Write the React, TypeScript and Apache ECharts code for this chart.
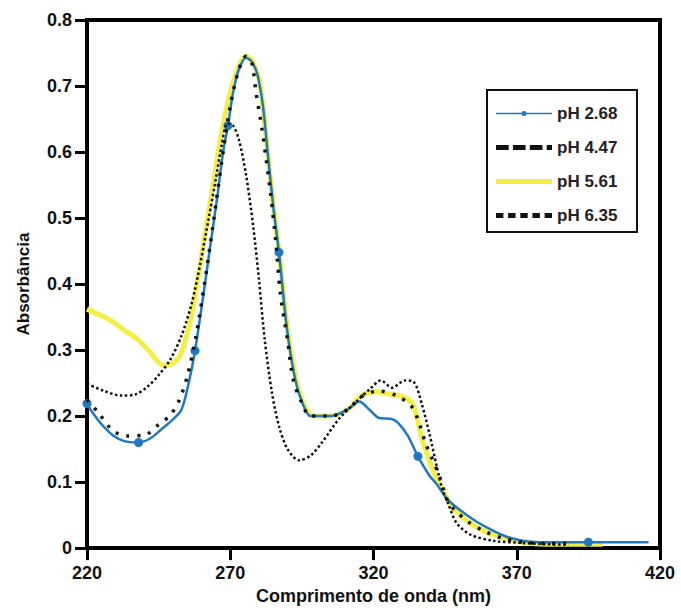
import React, { useEffect, useRef } from "react";
import * as echarts from "echarts";

const xTicks = [220, 270, 320, 370, 420];
const yTicks = [0, 0.1, 0.2, 0.3, 0.4, 0.5, 0.6, 0.7, 0.8];
const seriesNames = ["pH 2.68", "pH 4.47", "pH 5.61", "pH 6.35"];

const pH268: [number, number][] = [
  [220, 0.219], [222, 0.205], [225, 0.188], [229, 0.171], [233, 0.162], [238, 0.16],
  [242, 0.166], [246, 0.18], [250, 0.195], [253, 0.21], [255.5, 0.25], [257.7, 0.299],
  [260.5, 0.38], [263, 0.457], [265.5, 0.533], [267.5, 0.6], [269.2, 0.64], [271, 0.69],
  [273, 0.725], [275.5, 0.743], [277.5, 0.737], [279.5, 0.717], [281.5, 0.667], [283.2, 0.593],
  [285, 0.518], [287, 0.448], [289.8, 0.332], [292.6, 0.257], [295, 0.222], [298, 0.2],
  [305, 0.2], [311, 0.21], [315, 0.222], [318.5, 0.21], [322, 0.197], [326, 0.196],
  [328.5, 0.19], [332, 0.17], [335.5, 0.139], [339.5, 0.11], [342, 0.097], [346, 0.073],
  [351, 0.055], [356, 0.04], [361, 0.028], [366, 0.018], [371, 0.012], [378, 0.009],
  [385, 0.009], [395, 0.009], [405, 0.009], [416, 0.009],
];
const pH268Markers = [220, 238, 257.7, 269.2, 287, 335.5, 395];

const pH447: [number, number][] = [
  [220, 0.225], [224, 0.205], [229, 0.178], [234, 0.17], [240, 0.171], [245, 0.187],
  [249, 0.201], [252, 0.222], [255, 0.26], [258, 0.32], [261, 0.4], [264, 0.49],
  [267, 0.585], [270, 0.67], [273, 0.725], [275.5, 0.745], [277.5, 0.735], [279, 0.69],
  [281, 0.637], [282.5, 0.59], [284, 0.54], [286, 0.46], [287.5, 0.385], [290, 0.315],
  [292, 0.255], [295, 0.22], [298, 0.2], [305, 0.2], [311, 0.21], [316, 0.23],
  [322, 0.238], [328, 0.231], [333.4, 0.214], [336.2, 0.186], [338, 0.161], [340.4, 0.136],
  [343, 0.109], [346, 0.07], [348.5, 0.057], [353, 0.04], [359, 0.025], [365, 0.015],
  [372, 0.009], [380, 0.007], [390, 0.007],
];

const pH561: [number, number][] = [
  [220, 0.362], [225, 0.352], [229, 0.343], [233, 0.33], [237.5, 0.317], [242, 0.297],
  [246.5, 0.277], [249, 0.278], [252.5, 0.292], [256, 0.343], [258.5, 0.403], [261, 0.47],
  [264, 0.55], [267, 0.63], [270, 0.69], [273, 0.73], [275.5, 0.745], [278, 0.735],
  [280.5, 0.7], [283, 0.6], [285, 0.52], [287, 0.45], [290, 0.33], [293, 0.255],
  [296, 0.215], [299, 0.2], [305, 0.2], [311, 0.21], [316, 0.232], [321, 0.237],
  [326, 0.233], [331, 0.228], [334, 0.215], [337, 0.165], [341, 0.115], [344, 0.088],
  [348, 0.06], [353, 0.04], [359, 0.025], [366, 0.015], [373, 0.008], [380, 0.006],
  [390, 0.006], [400, 0.006],
];

const pH635: [number, number][] = [
  [220, 0.249], [226, 0.238], [232, 0.231], [237, 0.233], [241, 0.244], [245, 0.262],
  [249, 0.285], [253, 0.322], [256.5, 0.37], [259.5, 0.43], [262.5, 0.5], [265, 0.56],
  [267, 0.61], [269, 0.643], [271, 0.64], [273, 0.619], [275.5, 0.566], [278, 0.488],
  [280, 0.408], [282, 0.317], [284.5, 0.237], [287, 0.185], [290, 0.15], [294, 0.133],
  [298, 0.14], [302, 0.16], [308, 0.196], [314, 0.222], [319, 0.242], [322.5, 0.254],
  [326.5, 0.243], [331, 0.254], [334, 0.252], [337, 0.216], [339.7, 0.17], [342, 0.125],
  [344, 0.09], [346, 0.068], [349, 0.038], [354, 0.02], [362, 0.011], [371, 0.008],
  [380, 0.006], [388, 0.005],
];

const BLUE = "#1f78c1";
const YELLOW = "#f3ef45";
const BLACK = "#111111";
const FONT = "'Liberation Sans', Arial, sans-serif";

export default function App() {
  const ref = useRef<HTMLDivElement>(null);
  useEffect(() => {
    if (!ref.current) return;
    const chart = echarts.init(ref.current, undefined, { renderer: "svg" });
    const blueData = pH268.map(([x, y]) => ({
      value: [x, y],
      symbol: pH268Markers.includes(x) ? "circle" : "none",
    }));
    chart.setOption({
      animation: false,
      backgroundColor: "#ffffff",
      grid: {
        left: 87, right: 21, top: 20, bottom: 60,
        show: true, borderColor: "#000", borderWidth: 4, backgroundColor: "transparent",
      },
      legend: {
        orient: "vertical",
        left: 496,
        top: 105,
        padding: 0,
        itemWidth: 56,
        itemHeight: 14,
        itemGap: 17,
        symbolKeepAspect: true,
        textStyle: { fontSize: 17, fontWeight: "bold", color: "#222", fontFamily: FONT },
        data: [
          { name: seriesNames[0], icon: "path://M0,3.3h56v1.4h-56z M25.5,4a2.5,2.5 0 1,1 5,0a2.5,2.5 0 1,1 -5,0z" },
          { name: seriesNames[1], icon: "path://M0,0h12v4.5h-12z M16,0h12v4.5h-12z M32,0h12v4.5h-12z M48,0h5v4.5h-5z" },
          { name: seriesNames[2], icon: "path://M0,0h56v5h-56z" },
          { name: seriesNames[3], icon: "path://M0,0h7v4.5h-7z M11.5,0h7v4.5h-7z M23,0h7v4.5h-7z M34.5,0h7v4.5h-7z M46,0h7v4.5h-7z" },
        ],
      },
      graphic: [
        {
          type: "rect",
          shape: { x: 487, y: 90, width: 150, height: 142 },
          style: { fill: "none", stroke: "#111", lineWidth: 2 },
          z: 10,
        },
      ],
      xAxis: {
        type: "value",
        min: xTicks[0],
        max: xTicks[xTicks.length - 1],
        interval: 50,
        name: "Comprimento de onda (nm)",
        nameLocation: "middle",
        nameGap: 36,
        nameTextStyle: { fontSize: 18, fontWeight: "bold", color: "#111", fontFamily: FONT },
        axisLine: { show: true, lineStyle: { color: "#000", width: 4 } },
        axisTick: { show: true, length: 12, lineStyle: { color: "#000", width: 3 } },
        axisLabel: { margin: 16, fontSize: 18, fontWeight: "bold", color: "#111", fontFamily: FONT },
        splitLine: { show: false },
      },
      yAxis: {
        type: "value",
        min: yTicks[0],
        max: yTicks[yTicks.length - 1],
        interval: 0.1,
        name: "Absorbância",
        nameLocation: "middle",
        nameGap: 55,
        nameTextStyle: { fontSize: 17, fontWeight: "bold", color: "#111", fontFamily: FONT },
        axisLine: { show: true, lineStyle: { color: "#000", width: 4 } },
        axisTick: { show: true, length: 12, lineStyle: { color: "#000", width: 3 } },
        axisLabel: {
          margin: 15, fontSize: 18, fontWeight: "bold", color: "#111", fontFamily: FONT,
          formatter: (v: number) => (v === 0 ? "0" : v.toFixed(1)),
        },
        splitLine: { show: false },
      },
      series: [
        {
          name: seriesNames[2],
          type: "line",
          data: pH561,
          smooth: 0.3,
          symbol: "none",
          lineStyle: { color: YELLOW, width: 5 },
          itemStyle: { color: YELLOW },
          z: 2,
        },
        {
          name: seriesNames[0],
          type: "line",
          data: blueData,
          smooth: 0.3,
          symbol: "circle",
          symbolSize: 9,
          showSymbol: true,
          lineStyle: { color: BLUE, width: 2.5 },
          itemStyle: { color: BLUE },
          z: 3,
        },
        {
          name: seriesNames[1],
          type: "line",
          data: pH447,
          smooth: 0.3,
          symbol: "none",
          lineStyle: { color: BLACK, width: 3.5, type: [3, 8] },
          itemStyle: { color: BLACK },
          z: 4,
        },
        {
          name: seriesNames[3],
          type: "line",
          data: pH635,
          smooth: 0.3,
          symbol: "none",
          lineStyle: { color: BLACK, width: 2.5, type: [2.5, 2.5] },
          itemStyle: { color: BLACK },
          z: 5,
        },
      ],
    });
    return () => chart.dispose();
  }, []);
  return (
    <div
      ref={ref}
      style={{ position: "absolute", left: 0, top: 0, width: 681, height: 610, background: "#fff" }}
    />
  );
}
